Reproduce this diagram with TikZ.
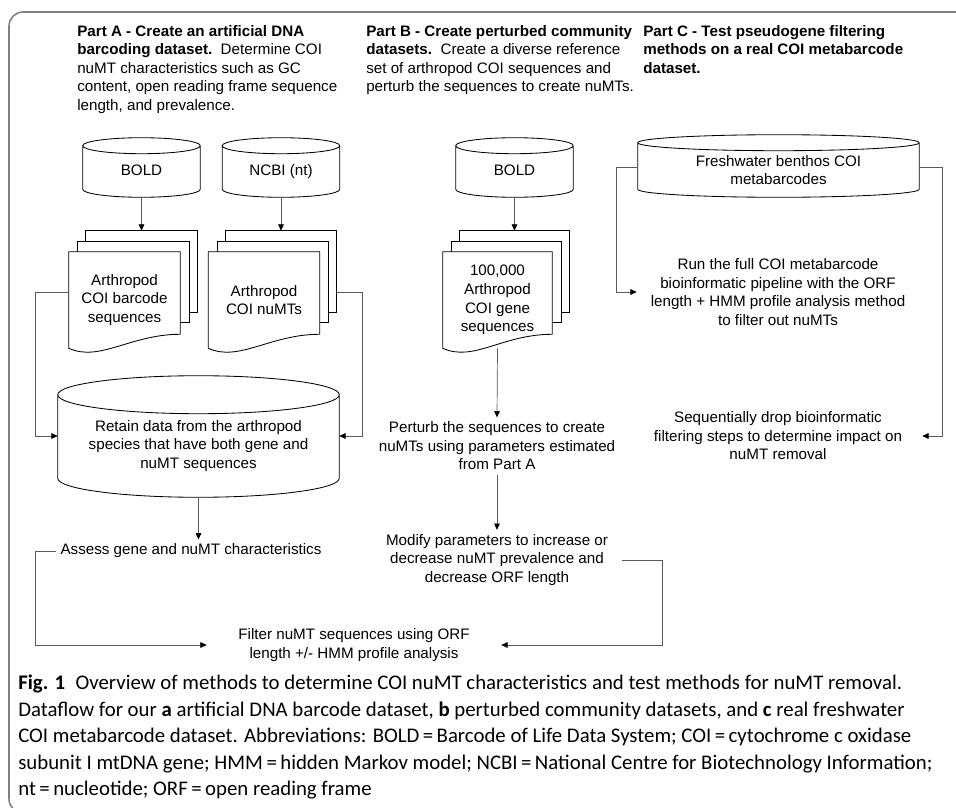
\documentclass[tikz,border=0pt]{standalone}
\usepackage{fontspec}
\setmainfont{Liberation Sans}
\newfontfamily\capfont{Carlito}
\usetikzlibrary{arrows.meta,calc,backgrounds}

\newcommand{\px}{0.025cm}

\tikzset{
  txt/.style={font=\fontsize{10.8}{13.2}\selectfont, align=center, inner sep=3pt},
  hdr/.style={txt, align=left, anchor=north west, inner sep=0pt},
  cyl/.style={txt, inner sep=0pt, minimum width=#1*\px},
  onecyl/.style={cyl=117, minimum height=51*\px, text height=0.72em, text depth=0.2em},
  doc/.style={txt, inner sep=0pt, minimum width=#1*\px, minimum height=96*\px},
  shp/.style={draw=black, line width=0.6pt},
  conn/.style={draw=black!65, line width=0.5pt, -{Triangle[length=4.5pt,width=4pt,color=black]}},
  frame/.style={draw=black!50, line width=1.1pt, rounded corners=10pt},
}

% outline of a cylinder round a node: node, y radius
\newcommand{\cylout}[2]{%
  \draw[shp] let \p1=(#1.north west), \p2=(#1.south east), \n1={(\x2-\x1)/2} in
    (\x1,\y1) -- (\x1,\y2+#2) arc[start angle=180, end angle=360, x radius=\n1, y radius=#2]
    -- (\x2,\y1) arc[start angle=0, end angle=360, x radius=\n1, y radius=#2];
}
% stack of three pages behind a node, front page with a wavy bottom
\newcommand{\docout}[1]{%
  \begin{pgfonlayer}{background}
    \draw[shp, fill=white] ([shift={(17,-21)}]#1.north west) rectangle ([shift={(17,-36)}]#1.south east);
    \draw[shp, fill=white] ([shift={(9,-10)}]#1.north west) rectangle ([shift={(9,-26)}]#1.south east);
    \draw[shp, fill=white] (#1.south west) -- (#1.north west) -- (#1.north east)
      -- ([shift={(0,-14)}]#1.south east) .. controls +(-50,0) and +(31,14) .. (#1.south west) -- cycle;
  \end{pgfonlayer}}

\begin{document}
\begin{tikzpicture}[x=\px, y=-\px]
  \useasboundingbox (0,0) rectangle (956,808);
  \begin{pgfonlayer}{background}
    \fill[white] (0,0) rectangle (956,808);
  \end{pgfonlayer}
  \draw[frame] (980,12) -- (9,12) -- (9,813) -- (40,813);

  % headings
  \node[hdr] (hdra) at (77,25) {\textbf{Part A - Create an artificial DNA}\\
    \textbf{barcoding dataset.}\ \ Determine COI\\ nuMT characteristics such as GC\\
    content, open reading frame sequence\\ length, and prevalence.};
  \node[hdr] (hdrb) at (366,25) {\textbf{Part B - Create perturbed community}\\
    \textbf{datasets.}\ \ Create a diverse reference\\ set of arthropod COI sequences and\\
    perturb the sequences to create nuMTs.};
  \node[hdr] (hdrc) at (643,25) {\textbf{Part C - Test pseudogene filtering}\\
    \textbf{methods on a real COI metabarcode}\\ \textbf{dataset.}};

  % data sources
  \node[onecyl] (bolda) at (141.5,171.5) {BOLD};
  \node[onecyl] (ncbi) at (281,171.5) {NCBI (nt)};
  \node[onecyl] (boldb) at (514.5,171.5) {BOLD};
  \node[cyl=281, minimum height=54*\px] (fresh) at (778.5,170) {Freshwater benthos COI\\metabarcodes};
  \cylout{bolda}{8*\px}
  \cylout{ncbi}{8*\px}
  \cylout{boldb}{8*\px}
  \cylout{fresh}{8*\px}

  % sequence sets
  \node[doc=111] (bara) at (124.5,300) {Arthropod\\COI barcode\\sequences};
  \node[doc=111] (numta) at (264,300) {Arthropod\\COI nuMTs};
  \node[doc=109] (geneb) at (497.5,300) {100,000\\Arthropod\\COI gene\\sequences};
  \docout{bara}
  \docout{numta}
  \docout{geneb}

  \node[cyl=281, minimum height=102*\px] (retain) at (198.5,446)
    {Retain data from the arthropod\\species that have both gene and\\nuMT sequences};
  \cylout{retain}{19*\px}

  % steps
  \node[txt] (assess) at (191,551) {Assess gene and nuMT characteristics};
  \node[txt] (perturb) at (497,446) {Perturb the sequences to create\\nuMTs using parameters estimated\\from Part A};
  \node[txt, minimum width=250*\px] (modify) at (497,560)
    {Modify parameters to increase or\\decrease nuMT prevalence and\\decrease ORF length};
  \node[txt, minimum width=282*\px] (run) at (778,292)
    {Run the full COI metabarcode\\bioinformatic pipeline with the ORF\\length + HMM profile analysis method\\to filter out nuMTs};
  \node[txt, minimum width=288*\px] (seq) at (778,436)
    {Sequentially drop bioinformatic\\filtering steps to determine impact on\\nuMT removal};
  \node[txt, minimum width=294*\px] (filter) at (354,645)
    {Filter nuMT sequences using ORF\\length +/- HMM profile analysis};

  \draw[conn] (bolda.south) -- ([shift={(17,-21)}]bara.north);
  \draw[conn] (ncbi.south) -- ([shift={(17,-21)}]numta.north);
  \draw[conn] (boldb.south) -- ([shift={(17,-21)}]geneb.north);
  \draw[conn] ([shift={(0,-8)}]bara.west) -- ++(-33,0) |- ([shift={(0,-10)}]retain.west);
  \draw[conn] ([shift={(17,-8)}]numta.east) -- ++(26,0) |- ([shift={(0,-10)}]retain.east);
  \draw[conn] (retain.south) -- (retain.south |- assess.north);
  \draw[conn] (assess.west) -- ++(-21,0) |- (filter.west);
  \draw[conn] (geneb.south) -- (perturb.north);
  \draw[conn] (perturb.south) -- (modify.north);
  \draw[conn] (modify.east) -- ++(40,0) |- (filter.east);
  \draw[conn] ([shift={(0,-3)}]fresh.west) -- ++(-21,0) |- (run.west);
  \draw[conn] ([shift={(0,-3)}]fresh.east) -- ++(23,0) |- (seq.east);

  % caption
  \node[anchor=north west, align=left, inner sep=0pt, font=\capfont\fontsize{14.8}{18.8}\selectfont] (cap) at (18,675)
    {\textbf{Fig. 1}\enspace Overview of methods to determine COI nuMT characteristics and test methods for nuMT removal.\\
     Dataflow for our \textbf{a} artificial DNA barcode dataset, \textbf{b} perturbed community datasets, and \textbf{c} real freshwater\\
     COI metabarcode dataset. Abbreviations: BOLD\,=\,Barcode of Life Data System; COI\,=\,cytochrome c oxidase\\
     subunit I mtDNA gene; HMM\,=\,hidden Markov model; NCBI\,=\,National Centre for Biotechnology Information;\\
     nt\,=\,nucleotide; ORF\,=\,open reading frame};
\end{tikzpicture}
\end{document}
